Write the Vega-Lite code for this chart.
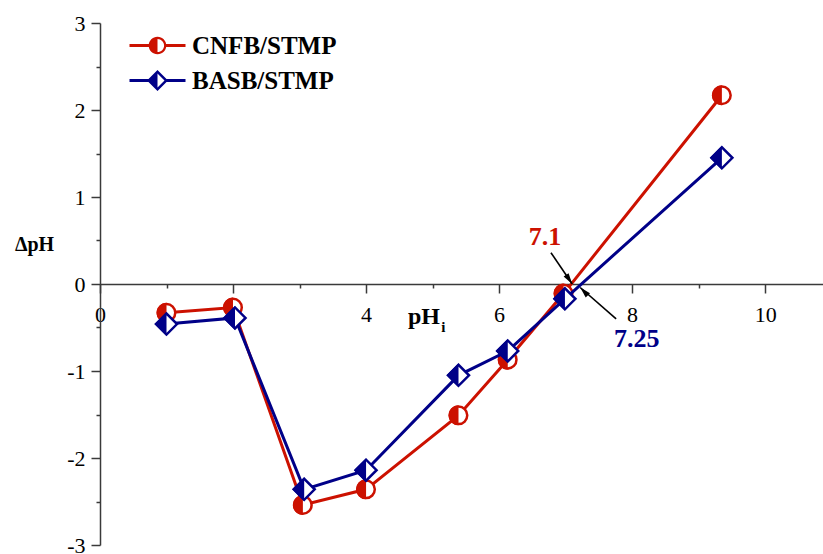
{
  "$schema": "https://vega.github.io/schema/vega-lite/v6.json",
  "width": 723,
  "height": 522,
  "autosize": "none",
  "padding": {"left": 100, "top": 23, "right": 0, "bottom": 9},
  "background": "white",
  "config": {"view": {"stroke": null}, "font": "Liberation Serif, Times New Roman, serif"},
  "datasets": {
    "pts": [
      {"series": "CNFB/STMP", "x": 1.0, "y": -0.33},
      {"series": "CNFB/STMP", "x": 2.0, "y": -0.27},
      {"series": "CNFB/STMP", "x": 3.05, "y": -2.54},
      {"series": "CNFB/STMP", "x": 4.0, "y": -2.36},
      {"series": "CNFB/STMP", "x": 5.39, "y": -1.51},
      {"series": "CNFB/STMP", "x": 6.13, "y": -0.87},
      {"series": "CNFB/STMP", "x": 6.97, "y": -0.11},
      {"series": "CNFB/STMP", "x": 9.35, "y": 2.17},
      {"series": "BASB/STMP", "x": 1.0, "y": -0.46},
      {"series": "BASB/STMP", "x": 2.03, "y": -0.39},
      {"series": "BASB/STMP", "x": 3.07, "y": -2.36},
      {"series": "BASB/STMP", "x": 4.0, "y": -2.14},
      {"series": "BASB/STMP", "x": 5.39, "y": -1.05},
      {"series": "BASB/STMP", "x": 6.13, "y": -0.77},
      {"series": "BASB/STMP", "x": 6.99, "y": -0.17},
      {"series": "BASB/STMP", "x": 9.35, "y": 1.45}
    ],
    "arrows": [
      {"target": "7.1", "x": 6.78, "y": 0.36, "x2": 7.1, "y2": 0.0},
      {"target": "7.25", "x": 7.76, "y": -0.40, "x2": 7.22, "y2": -0.04}
    ],
    "notes": [
      {"text": "7.1", "x": 6.69, "y": 0.448},
      {"text": "7.25", "x": 8.07, "y": -0.724},
      {"text": "pH", "x": 4.63, "y": -0.46},
      {"text": "i", "x": 5.13, "y": -0.55}
    ]
  },
  "encoding": {
    "x": {
      "field": "x",
      "type": "quantitative",
      "scale": {"domain": [0, 10.87], "nice": false, "zero": false},
      "axis": {
        "title": null,
        "offset": -261,
        "values": [0, 1, 2, 3, 4, 5, 6, 7, 8, 9, 10],
        "tickSize": {"condition": {"test": "datum.value % 2 === 0", "value": 9}, "value": 4},
        "labelExpr": "datum.value % 2 === 0 && datum.value !== 2 ? datum.label : ''",
        "labelFont": "Liberation Serif, Times New Roman, serif",
        "labelFontSize": 22,
        "labelColor": "black",
        "labelPadding": 11,
        "labelFlush": false,
        "labelOverlap": false,
        "labelBound": false,
        "domainColor": "#3a3a3a",
        "domainWidth": 1.5,
        "tickColor": "#3a3a3a",
        "tickWidth": 1.5,
        "grid": false
      }
    },
    "y": {
      "field": "y",
      "type": "quantitative",
      "scale": {"domain": [-3, 3], "nice": false, "zero": false},
      "axis": {
        "title": "ΔpH",
        "titleAngle": 0,
        "titleX": -66,
        "titleY": 221,
        "titleAlign": "center",
        "titleBaseline": "middle",
        "titleFont": "Liberation Serif, Times New Roman, serif",
        "titleFontSize": 20,
        "titleFontWeight": "bold",
        "titleColor": "black",
        "values": [-3, -2.5, -2, -1.5, -1, -0.5, 0, 0.5, 1, 1.5, 2, 2.5, 3],
        "tickSize": {"condition": {"test": "datum.value % 1 === 0", "value": 9}, "value": 4},
        "labelExpr": "datum.value % 1 === 0 ? '' + datum.value : ''",
        "labelFont": "Liberation Serif, Times New Roman, serif",
        "labelFontSize": 22,
        "labelColor": "black",
        "labelPadding": 6,
        "labelFlush": false,
        "labelOverlap": false,
        "labelBound": false,
        "domainColor": "#3a3a3a",
        "domainWidth": 1.5,
        "tickColor": "#3a3a3a",
        "tickWidth": 1.5,
        "grid": false
      }
    }
  },
  "layer": [
    {
      "data": {"name": "pts"},
      "transform": [{"filter": "datum.series === 'CNFB/STMP'"}],
      "mark": {"type": "line", "color": "#cc1100", "strokeWidth": 3}
    },
    {
      "data": {"name": "pts"},
      "transform": [{"filter": "datum.series === 'CNFB/STMP'"}],
      "mark": {"type": "point", "shape": "circle", "filled": true, "fill": "white", "stroke": "#cc1100", "strokeWidth": 2.5, "size": 306, "opacity": 1}
    },
    {
      "data": {"name": "pts"},
      "transform": [{"filter": "datum.series === 'CNFB/STMP'"}],
      "mark": {"type": "point", "shape": "M0,-1A1,1,0,0,0,0,1Z", "filled": true, "fill": "#cc1100", "strokeWidth": 0, "size": 400, "opacity": 1}
    },
    {
      "data": {"name": "pts"},
      "transform": [{"filter": "datum.series === 'BASB/STMP'"}],
      "mark": {"type": "line", "color": "#000088", "strokeWidth": 3}
    },
    {
      "data": {"name": "pts"},
      "transform": [{"filter": "datum.series === 'BASB/STMP'"}],
      "mark": {"type": "point", "shape": "diamond", "filled": true, "fill": "white", "stroke": "#000088", "strokeWidth": 2.5, "size": 441, "opacity": 1}
    },
    {
      "data": {"name": "pts"},
      "transform": [{"filter": "datum.series === 'BASB/STMP'"}],
      "mark": {"type": "point", "shape": "M0,-1.2L-1.2,0L0,1.2Z", "filled": true, "fill": "#000088", "strokeWidth": 0, "size": 400, "opacity": 1}
    },
    {
      "data": {"name": "pts"},
      "mark": {"type": "point", "filled": true, "opacity": 0, "size": 400},
      "encoding": {
        "color": {
          "field": "series",
          "type": "nominal",
          "scale": {"domain": ["CNFB/STMP", "BASB/STMP"], "range": ["#cc1100", "#000088"]},
          "legend": {
            "title": null,
            "orient": "none",
            "legendX": 27,
            "legendY": 10,
            "padding": 0,
            "symbolSize": 400,
            "symbolStrokeWidth": 0,
            "symbolOpacity": 1,
            "symbolOffset": 18,
            "labelOffset": 22,
            "labelFont": "Liberation Serif, Times New Roman, serif",
            "labelFontSize": 25,
            "labelFontWeight": "bold",
            "labelColor": "black",
            "rowPadding": 9
          }
        },
        "shape": {
          "field": "series",
          "type": "nominal",
          "scale": {
            "domain": ["CNFB/STMP", "BASB/STMP"],
            "range": [
              "M0,-0.88A0.88,0.88,0,0,0,0,0.88Z M0,-0.88A0.88,0.88,0,0,1,0,0.88L0,0.66A0.66,0.66,0,0,0,0,-0.66Z M-2.8,-0.16L-2.8,0.16L-0.86,0.16L-0.86,-0.16Z M0.86,-0.16L2.8,-0.16L2.8,0.16L0.86,0.16Z",
              "M0,-1.05L-1.05,0L0,1.05Z M0,-1.05L1.05,0L0,1.05L0,0.7L0.7,0L0,-0.7Z M-2.8,-0.16L-2.8,0.16L-0.9,0.16L-0.9,-0.16Z M0.9,-0.16L2.8,-0.16L2.8,0.16L0.9,0.16Z"
            ]
          },
          "legend": {
            "title": null,
            "orient": "none",
            "legendX": 27,
            "legendY": 10,
            "padding": 0,
            "symbolSize": 400,
            "symbolStrokeWidth": 0,
            "symbolOpacity": 1,
            "symbolOffset": 18,
            "labelOffset": 22,
            "labelFont": "Liberation Serif, Times New Roman, serif",
            "labelFontSize": 25,
            "labelFontWeight": "bold",
            "labelColor": "black",
            "rowPadding": 9
          }
        }
      }
    },
    {
      "data": {"name": "arrows"},
      "mark": {"type": "rule", "color": "black", "strokeWidth": 1.6},
      "encoding": {"x2": {"field": "x2"}, "y2": {"field": "y2"}}
    },
    {
      "data": {"name": "arrows"},
      "transform": [{"filter": "datum.target === '7.1'"}],
      "mark": {"type": "point", "shape": "M0,0L-0.6,2.2L0.6,2.2Z", "filled": true, "fill": "black", "strokeWidth": 0, "size": 100, "angle": 146, "opacity": 1},
      "encoding": {"x": {"field": "x2", "type": "quantitative"}, "y": {"field": "y2", "type": "quantitative"}}
    },
    {
      "data": {"name": "arrows"},
      "transform": [{"filter": "datum.target === '7.25'"}],
      "mark": {"type": "point", "shape": "M0,0L-0.6,2.2L0.6,2.2Z", "filled": true, "fill": "black", "strokeWidth": 0, "size": 100, "angle": 316, "opacity": 1},
      "encoding": {"x": {"field": "x2", "type": "quantitative"}, "y": {"field": "y2", "type": "quantitative"}}
    },
    {
      "data": {"name": "notes"},
      "transform": [{"filter": "datum.text === '7.1'"}],
      "mark": {"type": "text", "font": "Liberation Serif, Times New Roman, serif", "fontSize": 26, "fontWeight": "bold", "color": "#cc1100", "align": "center", "baseline": "alphabetic"},
      "encoding": {"text": {"field": "text"}}
    },
    {
      "data": {"name": "notes"},
      "transform": [{"filter": "datum.text === '7.25'"}],
      "mark": {"type": "text", "font": "Liberation Serif, Times New Roman, serif", "fontSize": 26, "fontWeight": "bold", "color": "#000088", "align": "center", "baseline": "alphabetic"},
      "encoding": {"text": {"field": "text"}}
    },
    {
      "data": {"name": "notes"},
      "transform": [{"filter": "datum.text === 'pH'"}],
      "mark": {"type": "text", "font": "Liberation Serif, Times New Roman, serif", "fontSize": 24, "fontWeight": "bold", "color": "black", "align": "left", "baseline": "alphabetic"},
      "encoding": {"text": {"field": "text"}}
    },
    {
      "data": {"name": "notes"},
      "transform": [{"filter": "datum.text === 'i'"}],
      "mark": {"type": "text", "font": "Liberation Serif, Times New Roman, serif", "fontSize": 15, "fontWeight": "bold", "color": "black", "align": "left", "baseline": "alphabetic"},
      "encoding": {"text": {"field": "text"}}
    }
  ]
}
